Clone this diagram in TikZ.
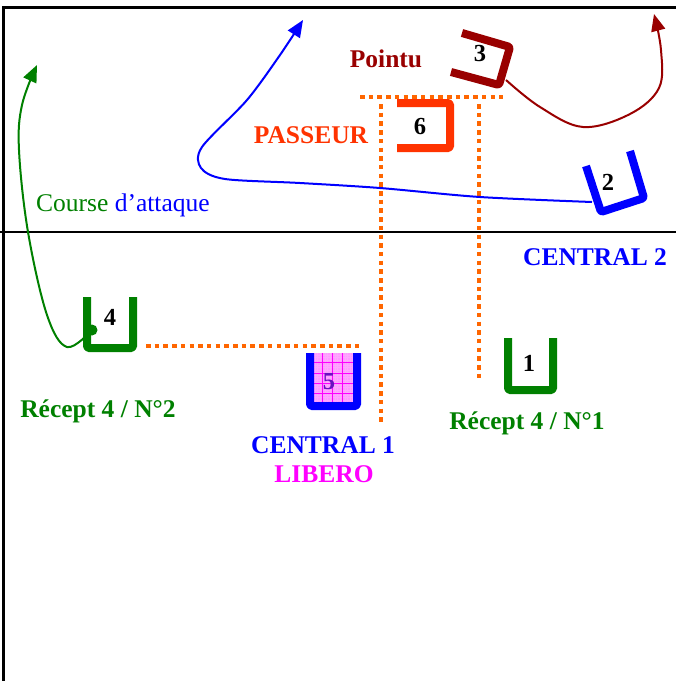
\documentclass[tikz,border=0pt]{standalone}
\usepackage{fontspec}
\setmainfont{Liberation Serif}
\usetikzlibrary{arrows.meta}
\definecolor{vert}{HTML}{008000}
\definecolor{bleu}{HTML}{0000FF}
\definecolor{rouge}{HTML}{990000}
\definecolor{orng}{HTML}{FF6600}
\definecolor{pass}{HTML}{FF3300}
\definecolor{mag}{HTML}{FF00FF}
\definecolor{rose}{HTML}{FF99FF}
\definecolor{violet5}{HTML}{6A10C0}
\begin{document}
\begin{tikzpicture}[x=1pt,y=-1pt,
  lab/.style={font=\fontsize{25.5}{30}\selectfont\bfseries, inner sep=0pt, anchor=base},
  num/.style={font=\fontsize{24.5}{28}\selectfont\bfseries, inner sep=0pt, anchor=base},
  ubox/.style={line width=8pt, rounded corners=1.5pt, line cap=butt, line join=round},
  dots/.style={orng, line width=4.5pt, dash pattern=on 4.5pt off 4.2pt},
  run/.style={line width=2pt, -{Triangle[length=17pt,width=14pt]}}]
\useasboundingbox (0,0) rectangle (676,681);
% frame
\draw[line width=3pt] (3,681) -- (3,7) -- (676,7);
\draw[line width=2pt] (0,232) -- (676,232);
% dotted lines
\coordinate (d1) at (360,97);
\coordinate (d2) at (503,97);
\coordinate (d3) at (381,104);
\coordinate (d4) at (381,425);
\coordinate (d5) at (479,104);
\coordinate (d6) at (479,380);
\coordinate (d7) at (146,346);
\coordinate (d8) at (362,346);
\draw[dots] (d1) -- (d2);
\draw[dots] (d3) -- (d4);
\draw[dots] (d5) -- (d6);
\draw[dots] (d7) -- (d8);
% box 5 (libero)
\fill[rose] (313,353) rectangle (354,403);
\draw[mag!35!white, line width=0.3pt, step=2.5pt] (313,353) grid (354,403);
\foreach \xx in {322,332,342} \draw[mag, line width=0.8pt] (\xx,353) -- (\xx,403);
\foreach \yy in {362,373,383,393} \draw[mag, line width=0.8pt] (313,\yy) -- (354,\yy);
\draw[ubox, bleu] (310,353) -- (310,406) -- (357,406) -- (357,353);
\node[num, violet5] (n5) at (329,389) {5};
% box 4
\draw[ubox, vert] (87,297) -- (87,348) -- (133,348) -- (133,297);
\node[num] (n4) at (110,325) {4};
\fill[vert] (92,330) circle (5.5pt);
\coordinate (g0) at (92,330);
% box 1
\draw[ubox, vert] (508,338) -- (508,390) -- (553,390) -- (553,338);
\node[num] (n1) at (529,371) {1};
% box 6
\draw[ubox, pass] (397,103) -- (450,103) -- (450,148) -- (397,148);
\node[num] (n6) at (420,134) {6};
% box 3
\draw[ubox, rouge] (462,33) -- (510,47) -- (499,85) -- (451,72);
\node[num] (n3) at (480,61) {3};
\coordinate (r0) at (506,80);
% box 2
\draw[ubox, bleu] (586,166) -- (601,212) -- (644,198) -- (630,151);
\node[num] (n2) at (608,190) {2};
\coordinate (b0) at (592,202);
% runs
\draw[run, vert] plot[smooth, tension=0.6] coordinates {(g0) (67,347) (47,315) (28,232) (19,150) (22,105) (37,65)};
\draw[run, bleu] plot[smooth, tension=0.5] coordinates {(b0) (480,197) (380,188) (300,183) (225,179) (201,168) (202,147) (247,100) (280,55) (303,20)};
\draw[run, rouge] plot[smooth, tension=0.6] coordinates {(r0) (540,107) (583,127) (630,114) (659,88) (661,50) (654,14)};
% labels
\node[lab, rouge] (pointu) at (386,67) {Pointu};
\node[lab, pass] (passeur) at (311,143) {PASSEUR};
\node[lab, bleu] (c2) at (595,265) {CENTRAL 2};
\node[inner sep=0pt, anchor=base west, font=\fontsize{25.5}{30}\selectfont] (course) at (36,211) {\textcolor{vert}{Course} \textcolor{bleu}{d’attaque}};
\node[lab, vert] (r2) at (98,417) {Récept 4 / N°2};
\node[lab, vert] (r1) at (527,429) {Récept 4 / N°1};
\node[lab, bleu] (c1) at (323,453) {CENTRAL 1};
\node[lab, mag] (lib) at (324,482) {LIBERO};
\end{tikzpicture}
\end{document}
